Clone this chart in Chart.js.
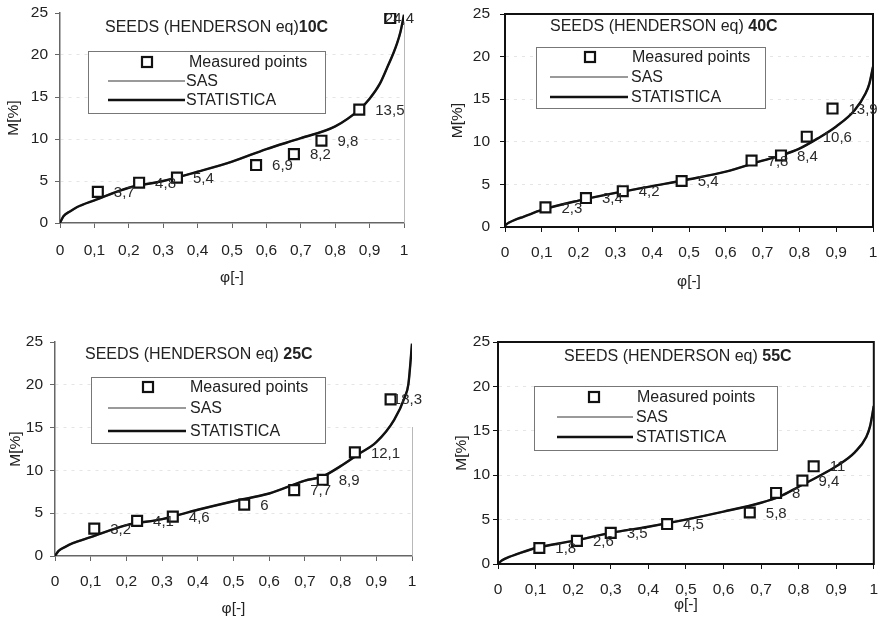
<!DOCTYPE html>
<html><head><meta charset="utf-8">
<script src="https://cdn.jsdelivr.net/npm/chart.js@4.4.1/dist/chart.umd.min.js"></script>
<style>
html,body{margin:0;padding:0;background:#fff;}
body{width:883px;height:620px;position:relative;overflow:hidden;}
canvas{position:absolute;}
</style></head><body>
<canvas id="c10" width="440" height="300" style="left:0px;top:0px;width:440px;height:300px"></canvas>
<canvas id="c40" width="443" height="300" style="left:440px;top:0px;width:443px;height:300px"></canvas>
<canvas id="c25" width="440" height="320" style="left:0px;top:300px;width:440px;height:320px"></canvas>
<canvas id="c55" width="443" height="320" style="left:440px;top:300px;width:443px;height:320px"></canvas>
<script>
// ---- DATA ----
const xTickLabels = ['0','0,1','0,2','0,3','0,4','0,5','0,6','0,7','0,8','0,9','1'];
const yTickLabels = ['0','5','10','15','20','25'];
const titleText = 'SEEDS (HENDERSON eq)';
const legendLabels = ['Measured points','SAS','STATISTICA'];
const xTitle = 'φ[-]';
const yTitle = 'M[%]';

// measured points
const phi10 = [0.11,0.23,0.34,0.57,0.68,0.76,0.87,0.96];
const m10   = [3.7,4.8,5.4,6.9,8.2,9.8,13.5,24.4];
const phi40 = [0.11,0.22,0.32,0.48,0.67,0.75,0.82,0.89];
const m40   = [2.3,3.4,4.2,5.4,7.8,8.4,10.6,13.9];
const phi25 = [0.11,0.23,0.33,0.53,0.67,0.75,0.84,0.94];
const m25   = [3.2,4.1,4.6,6,7.7,8.9,12.1,18.3];
const phi55 = [0.11,0.21,0.30,0.45,0.67,0.74,0.81,0.84];
const m55   = [1.8,2.6,3.5,4.5,5.8,8,9.4,11];

// fitted curves (SAS and STATISTICA coincide)
const curvePhi10 = [0,0.01,0.03,0.05,0.1,0.2,0.3,0.4,0.5,0.6,0.7,0.8,0.87,0.9,0.93,0.95,0.97,0.98,0.99,1.0];
const curveM10   = [0,0.8,1.4,1.9,2.7,4.2,5.0,6.1,7.3,8.8,10.1,11.5,13.5,14.8,16.6,18.4,20.3,21.4,22.8,24.8];
const curvePhi40 = [0,0.01,0.03,0.05,0.1,0.2,0.3,0.4,0.5,0.6,0.7,0.75,0.8,0.85,0.9,0.95,0.98,0.99,1.0];
const curveM40   = [0.2,0.5,0.9,1.2,2.0,3.1,4.0,4.8,5.6,6.5,7.8,8.4,9.2,10.4,11.8,13.7,15.7,16.8,18.8];
const curvePhi25 = [0,0.01,0.03,0.05,0.1,0.2,0.3,0.4,0.5,0.6,0.7,0.75,0.8,0.85,0.9,0.95,0.98,0.99,1.0];
const curveM25   = [0,0.6,1.1,1.5,2.2,3.6,4.3,5.4,6.4,7.3,8.8,9.3,10.5,11.9,13.3,15.9,18.6,20.1,24.8];
const curvePhi55 = [0,0.01,0.03,0.05,0.1,0.2,0.3,0.4,0.5,0.6,0.7,0.75,0.8,0.85,0.9,0.95,0.98,0.99,1.0];
const curveM55   = [0,0.4,0.8,1.1,1.8,2.6,3.5,4.2,5.0,5.9,6.9,7.6,8.7,9.8,11.0,12.6,14.3,15.5,17.8];

// ---- LAYOUT (per panel) ----
const FONT = '"Liberation Sans", Arial, sans-serif';
const panels = [
  {id:'c10', temp:'10C', sep:'', phi:phi10, m:m10, cphi:curvePhi10, cm:curveM10,
   top:13, right:36, yW:60, xH:77, yTickPad:7, xTickPad:13, xTitlePad:13, yTitlePad:4, box:false,
   title:{x:105,y:28}, legend:{x:88,y:51,w:237,h:62,rows:[62,81,100],mx:147,l1:108,l2:185,tx:[189,186,186]}},
  {id:'c40', temp:'40C', sep:' ', phi:phi40, m:m40, cphi:curvePhi40, cm:curveM40,
   top:14, right:10, yW:65, xH:73, yTickPad:10, xTickPad:11, xTitlePad:9, yTitlePad:8, box:true,
   title:{x:110,y:27}, legend:{x:96,y:47,w:229,h:61,rows:[57,77,97],mx:150,l1:110,l2:188,tx:[192,191,191]}},
  {id:'c25', temp:'25C', sep:' ', phi:phi25, m:m25, cphi:curvePhi25, cm:curveM25,
   top:42, right:28, yW:55, xH:64, yTickPad:7, xTickPad:11, xTitlePad:2, yTitlePad:6, box:false,
   title:{x:85,y:55}, legend:{x:91,y:77,w:234,h:66,rows:[87,108,131],mx:148,l1:108,l2:186,tx:[190,190,190]}},
  {id:'c55', temp:'55C', sep:' ', phi:phi55, m:m55, cphi:curvePhi55, cm:curveM55,
   top:42, right:6, yW:58, xH:56, yTickPad:3, xTickPad:11, xTitlePad:6, yTitlePad:12, box:true,
   title:{x:124,y:57}, legend:{x:94,y:86,w:243,h:64,rows:[97,117,137],mx:154,l1:117,l2:193,tx:[197,196,196]}}
];

function fmt(v){ return String(v).replace('.', ','); }

const decorPlugin = {
  id:'decor',
  afterDatasetsDraw(chart){
    const p = chart.options.plugins.decor.panel;
    const ctx = chart.ctx;
    const ca = chart.chartArea;
    ctx.save();
    // frame
    if (p.box){
      ctx.strokeStyle = '#111'; ctx.lineWidth = 2;
      ctx.strokeRect(ca.left, ca.top, ca.right-ca.left, ca.bottom-ca.top);
    } else {
      ctx.strokeStyle = '#b8b8b8'; ctx.lineWidth = 1;
      ctx.beginPath(); ctx.moveTo(ca.right+0.5, ca.top+ (p.id==='c25'?85:10)); ctx.lineTo(ca.right+0.5, ca.bottom); ctx.stroke();
    }
    // point labels
    const meta = chart.getDatasetMeta(2);
    ctx.font = '15px ' + FONT; ctx.fillStyle = '#2a2a2a'; ctx.textBaseline = 'middle'; ctx.textAlign = 'left';
    meta.data.forEach((pt, i) => {
      const t = fmt(p.m[i]);
      const w = ctx.measureText(t).width;
      let x = pt.x + 16;
      if (x + w > ca.right + 10) x = ca.right + 10 - w;
      ctx.fillText(t, x, pt.y + 1);
    });
    // title
    ctx.font = '16px ' + FONT; ctx.fillStyle = '#222';
    const t1 = titleText + p.sep;
    ctx.fillText(t1, p.title.x, p.title.y);
    const w1 = ctx.measureText(t1).width;
    ctx.font = 'bold 16px ' + FONT;
    ctx.fillText(p.temp, p.title.x + w1, p.title.y);
    // legend
    const L = p.legend;
    ctx.fillStyle = '#fff';
    ctx.fillRect(L.x, L.y, L.w, L.h);
    ctx.strokeStyle = '#777'; ctx.lineWidth = 1;
    ctx.strokeRect(L.x+0.5, L.y+0.5, L.w, L.h);
    // marker
    ctx.strokeStyle = '#111'; ctx.lineWidth = 2.2; ctx.fillStyle = '#fff';
    ctx.fillRect(L.mx-5, L.rows[0]-5, 10, 10);
    ctx.strokeRect(L.mx-5, L.rows[0]-5, 10, 10);
    // SAS line
    ctx.strokeStyle = '#9a9a9a'; ctx.lineWidth = 2;
    ctx.beginPath(); ctx.moveTo(L.l1, L.rows[1]); ctx.lineTo(L.l2, L.rows[1]); ctx.stroke();
    // STATISTICA line
    ctx.strokeStyle = '#111'; ctx.lineWidth = 2.5;
    ctx.beginPath(); ctx.moveTo(L.l1, L.rows[2]); ctx.lineTo(L.l2, L.rows[2]); ctx.stroke();
    ctx.font = '16px ' + FONT; ctx.fillStyle = '#222'; ctx.textBaseline = 'middle';
    legendLabels.forEach((s, i) => ctx.fillText(s, L.tx[i], L.rows[i] + 1));
    ctx.restore();
  }
};

panels.forEach(p => {
  const pts = p.phi.map((x, i) => ({x, y: p.m[i]}));
  const curve = p.cphi.map((x, i) => ({x, y: p.cm[i]}));
  const axisColor = p.box ? '#111' : '#666';
  new Chart(document.getElementById(p.id), {
    type: 'scatter',
    data: { datasets: [
      { label: legendLabels[1], data: curve, showLine: true, borderColor: '#8a8a8a', borderWidth: 2,
        pointRadius: 0, cubicInterpolationMode: 'monotone', order: 3 },
      { label: legendLabels[2], data: curve, showLine: true, borderColor: '#111', borderWidth: 2.4,
        pointRadius: 0, cubicInterpolationMode: 'monotone', order: 2 },
      { label: legendLabels[0], data: pts, showLine: false, pointStyle: 'rect', pointRadius: 7,
        pointBorderWidth: 2.2, pointBorderColor: '#111', pointBackgroundColor: '#fff', order: 1 }
    ]},
    options: {
      responsive: false, animation: false, devicePixelRatio: 1,
      layout: { padding: { left: 0, top: p.top, right: p.right, bottom: 0 } },
      plugins: { legend: { display: false }, tooltip: { enabled: false }, decor: { panel: p } },
      scales: {
        x: {
          type: 'linear', min: 0, max: 1,
          ticks: { stepSize: 0.1, padding: p.xTickPad, color: '#222', font: { family: FONT, size: 15.5 },
                   maxRotation: 0, autoSkip: false,
                   callback: (v) => { const i = Math.round(v * 10); return xTickLabels[i]; } },
          grid: { drawOnChartArea: false, drawTicks: true, tickLength: 5, tickColor: axisColor, tickWidth: 1 },
          border: { display: true, color: axisColor, width: p.box ? 2 : 1.5 },
          title: { display: true, text: xTitle, color: '#222', font: { family: FONT, size: 15.5 }, padding: { top: 0, bottom: p.xTitlePad } },
          afterFit: (s) => { s.height = p.xH; s.paddingLeft = 0; s.paddingRight = 0; }
        },
        y: {
          type: 'linear', min: 0, max: 25,
          ticks: { stepSize: 5, padding: p.yTickPad, color: '#222', font: { family: FONT, size: 15.5 },
                   callback: (v) => yTickLabels[Math.round(v / 5)] },
          grid: { drawOnChartArea: true, drawTicks: true, tickLength: 5, tickColor: axisColor,
                  color: (c) => (c.tick && c.tick.value > 0 && c.tick.value < 25) ? 'rgba(0,0,0,0.10)' : 'rgba(0,0,0,0)' },
          border: { display: true, color: axisColor, width: p.box ? 2 : 1.5, dash: [3, 5] },
          title: { display: true, text: yTitle, color: '#222', font: { family: FONT, size: 15.5 }, padding: { top: p.yTitlePad, bottom: 0 } },
          afterFit: (s) => { s.width = p.yW; s.paddingTop = 0; s.paddingBottom = 0; }
        }
      }
    },
    plugins: [decorPlugin]
  });
});
</script>
</body></html>
